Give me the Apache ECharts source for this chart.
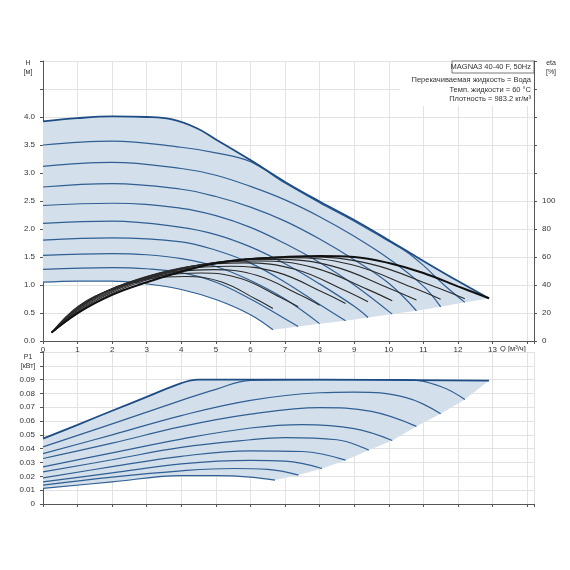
<!DOCTYPE html>
<html><head><meta charset="utf-8">
<script src="https://cdn.jsdelivr.net/npm/echarts@6/dist/echarts.min.js"></script>
<style>html,body{margin:0;padding:0;background:#fff}#c{width:570px;height:570px}</style>
</head><body><div id="c"></div>
<script>
// Head curves H [m] vs Q [m3/h], lowest speed first
const hMax = [[0,3.92],[1,3.98],[2,4.01],[3,4.0],[3.7,3.96],[4.45,3.8],[5,3.6],[6,3.23],[7,2.84],[8,2.49],[9,2.16],[10,1.8],[11,1.43],[12,1.07],[12.9,0.76]];
const hCurves = [
 [[0,1.05],[1,1.07],[2,1.07],[3,1.02],[4,0.92],[5,0.74],[6,0.47],[6.65,0.2]],
 [[0,1.28],[2,1.31],[3,1.29],[4,1.22],[5,1.05],[6,0.75],[6.85,0.45],[7.38,0.26]],
 [[0,1.53],[2,1.56],[3,1.54],[4,1.47],[5,1.33],[6,1.08],[7,0.75],[8,0.31]],
 [[0,1.8],[2,1.84],[4,1.77],[5,1.62],[6,1.39],[7,1.05],[8,0.65],[8.75,0.36]],
 [[0,2.1],[2,2.14],[4,2.03],[5,1.9],[6,1.68],[7,1.38],[8,1.02],[9,0.62],[9.4,0.42]],
 [[0,2.42],[2,2.46],[4,2.37],[5,2.24],[6,2.03],[7,1.74],[8,1.4],[9,1.0],[10.1,0.48]],
 [[0,2.75],[2,2.81],[4,2.71],[5,2.58],[6,2.39],[7,2.14],[8,1.82],[9,1.45],[10,1.03],[10.8,0.54]],
 [[0,3.12],[2,3.19],[4,3.08],[5,2.96],[6,2.76],[7,2.52],[8,2.22],[9,1.87],[10,1.47],[11,0.98],[11.5,0.61]],
 [[0,3.5],[2,3.57],[4,3.46],[5,3.36],[6,3.2],[7,2.82],[8,2.47],[9,2.14],[10,1.78],[10.5,1.6],[11,1.35],[11.6,1.0],[12.2,0.69]]
];
// Efficiency curves eta [%]
const etaMax = [[0.25,6],[1,20],[2,33],[3,42],[4,49.5],[5,55.5],[6,58.5],[7,60],[8,60.7],[9,60],[10,55.7],[11,48.6],[12,39],[12.9,30.5]];
const etaCurves = [
 [[0.25,6],[1.03,25.1],[2.06,37.6],[3.09,44.5],[4.12,46.1],[5.15,42.3],[6.18,29.6],[6.65,23.2]],
 [[0.25,6],[1.14,26.4],[2.29,39.6],[3.43,46.8],[4.58,48.6],[5.72,44.6],[6.86,31.2],[7.38,24.4]],
 [[0.25,6],[1.24,27.7],[2.48,41.6],[3.72,49.1],[4.96,51],[6.2,46.8],[7.44,32.8],[8.0,25.6]],
 [[0.25,6],[1.36,29],[2.71,43.6],[4.07,51.5],[5.42,53.4],[6.78,49],[8.14,34.3],[8.75,26.8]],
 [[0.25,6],[1.46,30.4],[2.92,45.5],[4.37,53.8],[5.83,55.8],[7.29,51.2],[8.75,35.9],[9.4,28]],
 [[0.25,6],[1.57,31],[3.13,46.5],[4.7,55],[6.26,57.1],[7.83,52.4],[9.4,36.7],[10.1,28.7]],
 [[0.25,6],[1.67,31.7],[3.35,47.5],[5.02,56.2],[6.7,58.3],[8.37,53.5],[10.04,37.4],[10.8,29.3]],
 [[0.25,6],[1.78,32.3],[3.56,48.5],[5.35,57.3],[7.13,59.5],[8.91,54.6],[10.69,38.2],[11.5,29.9]],
 [[0.25,6],[1.89,32.7],[3.78,49],[5.68,57.9],[7.57,60.1],[9.46,55.1],[11.35,38.6],[12.2,30.2]]
];
// Power curves P1 [kW]
const pMax = [[0,0.0473],[1,0.0573],[2,0.0675],[3,0.0775],[4,0.0875],[4.5,0.09],[8,0.09],[12.9,0.0893]];
const pCurves = [
 [[0,0.0113],[2,0.016],[4,0.0205],[5,0.0205],[6,0.0195],[6.71,0.0173]],
 [[0,0.0137],[2,0.0195],[4,0.024],[5.5,0.0257],[6.5,0.025],[7.39,0.0209]],
 [[0,0.016],[2,0.0225],[4,0.029],[6,0.0315],[7,0.031],[8.07,0.0257]],
 [[0,0.0189],[2,0.027],[4,0.0345],[6,0.0385],[7.5,0.038],[8.75,0.0317]],
 [[0,0.0233],[2,0.032],[4,0.041],[6,0.0465],[7,0.048],[8.5,0.0465],[9.42,0.0389]],
 [[0,0.0269],[2,0.037],[4,0.047],[6,0.055],[7.5,0.0575],[9,0.0545],[10.1,0.046]],
 [[0,0.0329],[2,0.044],[4,0.056],[6,0.065],[8,0.0698],[9.5,0.067],[10.8,0.0562]],
 [[0,0.0365],[2,0.05],[4,0.064],[6,0.075],[8,0.0805],[9,0.081],[10.5,0.077],[11.5,0.0653]],
 [[0,0.0413],[2,0.058],[4,0.075],[5,0.083],[6,0.0895],[8,0.09],[10.5,0.09],[11.5,0.085],[12.2,0.0756]]
];
const titleText = 'MAGNA3 40-40 F, 50Hz';
const infoLines = ['Перекачиваемая жидкость = Вода','Темп. жидкости = 60 °C','Плотность = 983.2 кг/м³'];

function region(maxC, curves){
  const pts = maxC.slice();
  for (let i = curves.length-1; i >= 0; i--) pts.push(curves[i][curves[i].length-1]);
  const low = curves[0].slice().reverse();
  return pts.concat(low.slice(1));
}
const hPoly = region(hMax, hCurves), pPoly = region(pMax, pCurves);

const FILL = '#d3dfeb', LINE = '#2f5f93', DARK = '#1d4c85';
const lab = {fontSize: 8, color: '#333', fontFamily: 'Liberation Sans'};
const split = {show: true, lineStyle: {color: '#e2e2e2', width: 1}};
const axLine = {show: true, lineStyle: {color: '#555'}};

function polySeries(poly, xi, yi){
  return {type:'custom', xAxisIndex:xi, yAxisIndex:yi, data:[[0,0]], silent:true, z:1,
    renderItem:(p,api)=>({type:'polygon', shape:{points: poly.map(pt=>api.coord(pt))}, style:{fill: FILL}})};
}
function lineS(d, xi, yi, color, w, z){
  return {type:'line', xAxisIndex:xi, yAxisIndex:yi, data:d, smooth:0.4, showSymbol:false, silent:true, z:z||3,
    lineStyle:{color:color, width:w}};
}
const series = [polySeries(hPoly,0,0), polySeries(pPoly,1,2)];
hCurves.forEach(c=>series.push(lineS(c,0,0,LINE,1.2)));
series.push(lineS(hMax,0,0,DARK,1.8,4));
etaCurves.forEach(c=>series.push(lineS(c,0,1,'#2a2a2a',1.1,5)));
series.push(lineS(etaMax,0,1,'#111',2,6));
pCurves.forEach(c=>series.push(lineS(c,1,2,LINE,1.2)));
series.push(lineS(pMax,1,2,DARK,1.8,4));

const chart = echarts.init(document.getElementById('c'), null, {renderer:'canvas'});
chart.setOption({
  animation:false,
  grid:[{left:43,right:36,top:61,bottom:229},{left:43,right:36,top:352,bottom:66}],
  xAxis:[
    {type:'value',gridIndex:0,min:0,max:14.2,interval:1,axisLine:axLine,axisTick:{show:true,length:3},
     splitLine:split,axisLabel:Object.assign({margin:5,formatter:v=>v<=13?String(v):''},lab)},
    {type:'value',gridIndex:1,min:0,max:14.2,interval:1,axisLine:axLine,axisTick:{show:true,length:3},
     splitLine:split,axisLabel:{show:false}}
  ],
  yAxis:[
    {type:'value',gridIndex:0,min:0,max:5,interval:0.5,axisLine:axLine,axisTick:{show:true,length:3},splitLine:split,
     axisLabel:Object.assign({formatter:v=>v<=4?v.toFixed(1):''},lab)},
    {type:'value',gridIndex:0,min:0,max:200,interval:20,position:'right',axisLine:axLine,axisTick:{show:true,length:3},splitLine:{show:false},
     axisLabel:Object.assign({formatter:v=>v<=100?String(v):''},lab)},
    {type:'value',gridIndex:1,min:0,max:0.11,interval:0.01,axisLine:axLine,axisTick:{show:true,length:3},splitLine:split,
     axisLabel:Object.assign({formatter:v=>v===0?'0':(v<0.095?v.toFixed(2):'')},lab)}
  ],
  graphic:[
    {type:'rect',shape:{x:400,y:62,width:133,height:44},style:{fill:'#fff'},z:10},
    {type:'rect',shape:{x:452,y:61,width:82,height:12},style:{fill:'#fff',stroke:'#555',lineWidth:0.8},z:11},
    {type:'text',x:531,y:67,style:{text:titleText,fontSize:7.5,fill:'#333',align:'right',verticalAlign:'middle',fontFamily:'Liberation Sans'},z:12},
    ...infoLines.map((t,i)=>({type:'text',x:531,y:80+i*9.5,style:{text:t,fontSize:7.5,fill:'#333',align:'right',verticalAlign:'middle',fontFamily:'Liberation Sans'},z:12})),
    {type:'text',x:28,y:68,style:{text:'H\n[м]',fontSize:7,fill:'#333',align:'center',verticalAlign:'middle',lineHeight:9,fontFamily:'Liberation Sans'}},
    {type:'text',x:551,y:68,style:{text:'eta\n[%]',fontSize:7,fill:'#333',align:'center',verticalAlign:'middle',lineHeight:9,fontFamily:'Liberation Sans'}},
    {type:'text',x:500,y:349,style:{text:'Q [м³/ч]',fontSize:7.5,fill:'#333',align:'left',verticalAlign:'middle',fontFamily:'Liberation Sans'}},
    {type:'text',x:28,y:362,style:{text:'P1\n[кВт]',fontSize:7,fill:'#333',align:'center',verticalAlign:'middle',lineHeight:9,fontFamily:'Liberation Sans'}}
  ],
  series:series
});
</script></body></html>
